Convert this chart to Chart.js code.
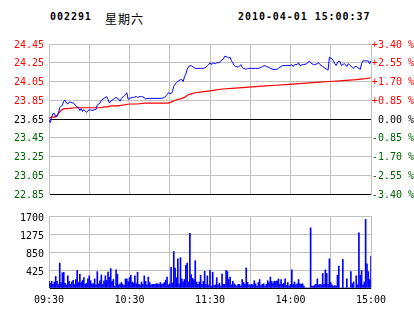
<!DOCTYPE html>
<html>
<head>
<meta charset="utf-8">
<script src="https://cdn.jsdelivr.net/npm/chart.js@4.4.0/dist/chart.umd.min.js"></script>
<style>
html, body { margin: 0; padding: 0; background: #fff; }
#wrap { position: relative; width: 414px; height: 314px; overflow: hidden; }
canvas { position: absolute; left: 0; }
#price { top: 0; }
#vol { top: 205px; }
.hd { position: absolute; top: 11px; line-height: 12px; font: bold 10px "DejaVu Sans Mono", monospace; letter-spacing: 0.95px; color: #000; white-space: pre; }
.cn { position: absolute; top: 10px; line-height: 12px; font: 12px "Noto Sans CJK SC", sans-serif; letter-spacing: 1px; color: #000; }
</style>
</head>
<body>
<div id="wrap">
  <div class="hd" style="left:50px">002291</div>
  <div class="cn" style="left:105px">星期六</div>
  <div class="hd" style="left:238px">2010-04-01 15:00:37</div>
  <canvas id="price" width="414" height="205"></canvas>
  <canvas id="vol" width="414" height="109"></canvas>
</div>
<script>
// minutes since 09:30 (0..240, lunch break removed)
var labelMinutes = [0, 60, 120, 180, 240];
var timeLabels = ["09:30", "10:30", "11:30", "14:00", "15:00"];

var prevClose = 23.65;
var priceTicks = [22.85, 23.05, 23.25, 23.45, 23.65, 23.85, 24.05, 24.25, 24.45];
var pctTicks = [-3.40, -2.55, -1.70, -0.85, 0, 0.85, 1.70, 2.55, 3.40];
var volTicks = [0, 425, 850, 1275, 1700];

var priceMinutes = [0, 1, 2, 3, 4, 5, 6, 7, 8, 10, 11, 12, 13, 14, 15, 16, 18, 19, 20, 22,
  23, 24, 25, 26, 28, 29, 31, 32, 34, 35, 36, 38, 39, 41, 43, 44, 45, 46, 48, 49,
  50, 52, 53, 54, 56, 57, 58, 59, 60, 62, 63, 65, 66, 68, 69, 71, 72, 73, 75, 79,
  84, 86, 88, 89, 91, 92, 93, 95, 96, 98, 99, 100, 101, 102, 103, 104, 106, 108, 109, 111,
  113, 115, 117, 118, 119, 120, 121, 122, 124, 125, 127, 128, 130, 131, 133, 134, 135, 136, 137, 138,
  139, 140, 141, 143, 144, 145, 147, 148, 150, 152, 154, 156, 158, 159, 161, 162, 164, 165, 167, 170,
  171, 173, 174, 176, 178, 180, 181, 182, 183, 185, 186, 187, 189, 190, 192, 193, 194, 195, 197, 198,
  200, 201, 202, 204, 205, 207, 208, 209, 210, 211, 212, 213, 214, 215, 216, 217, 218, 220, 221, 222,
  223, 224, 226, 227, 228, 229, 231, 232, 233, 234, 235, 237, 238, 239, 240];
var priceValues = [23.64, 23.61, 23.67, 23.71, 23.71, 23.67, 23.69, 23.71, 23.77, 23.80, 23.84, 23.85, 23.82, 23.81, 23.83, 23.83, 23.82, 23.81, 23.79, 23.77,
  23.74, 23.76, 23.73, 23.75, 23.72, 23.74, 23.75, 23.74, 23.75, 23.75, 23.80, 23.82, 23.85, 23.87, 23.89, 23.86, 23.82, 23.84, 23.86, 23.87,
  23.88, 23.86, 23.84, 23.87, 23.90, 23.91, 23.93, 23.86, 23.87, 23.88, 23.88, 23.89, 23.88, 23.89, 23.89, 23.88, 23.86, 23.87, 23.87, 23.87,
  23.87, 23.88, 23.91, 23.93, 23.92, 23.94, 24.00, 24.04, 24.05, 24.07, 24.07, 24.05, 24.10, 24.13, 24.18, 24.21, 24.22, 24.20, 24.19, 24.19,
  24.19, 24.19, 24.20, 24.22, 24.23, 24.25, 24.23, 24.25, 24.24, 24.25, 24.25, 24.27, 24.29, 24.32, 24.31, 24.30, 24.31, 24.27, 24.25, 24.22,
  24.21, 24.21, 24.20, 24.23, 24.20, 24.19, 24.18, 24.19, 24.19, 24.19, 24.19, 24.19, 24.20, 24.21, 24.22, 24.21, 24.20, 24.19, 24.18, 24.18,
  24.19, 24.21, 24.22, 24.22, 24.22, 24.22, 24.23, 24.21, 24.23, 24.23, 24.25, 24.22, 24.23, 24.23, 24.24, 24.25, 24.27, 24.25, 24.23, 24.23,
  24.24, 24.25, 24.23, 24.21, 24.20, 24.18, 24.17, 24.31, 24.30, 24.29, 24.27, 24.24, 24.22, 24.25, 24.27, 24.26, 24.22, 24.24, 24.23, 24.21,
  24.24, 24.23, 24.20, 24.19, 24.21, 24.21, 24.19, 24.18, 24.24, 24.27, 24.27, 24.27, 24.27, 24.24, 24.27];

var avgMinutes = [0, 2, 4, 6, 7, 9, 11, 14, 19, 24, 29, 34, 39, 41, 44, 46, 51, 56, 60, 66,
  71, 76, 84, 89, 91, 94, 99, 101, 104, 109, 114, 120, 129, 139, 149, 159, 169, 179, 189, 199,
  209, 219, 229, 236, 240];
var avgValues = [23.66, 23.67, 23.67, 23.68, 23.71, 23.74, 23.76, 23.76, 23.77, 23.77, 23.77, 23.77, 23.77, 23.78, 23.78, 23.79, 23.79, 23.80, 23.81, 23.81,
  23.82, 23.82, 23.82, 23.82, 23.83, 23.85, 23.87, 23.88, 23.91, 23.93, 23.94, 23.95, 23.97, 23.98, 23.99, 24.00, 24.01, 24.02, 24.03, 24.04,
  24.05, 24.06, 24.07, 24.08, 24.09];

// one bar per minute
var volumes = [158, 108, 158, 86, 143, 272, 158, 86, 588, 129,
  358, 373, 108, 72, 287, 158, 86, 143, 179, 86,
  201, 416, 129, 330, 129, 179, 244, 86, 108, 215,
  287, 172, 100, 100, 215, 72, 387, 100, 172, 308,
  86, 172, 287, 179, 373, 251, 459, 158, 201, 43,
  430, 323, 72, 100, 129, 86, 65, 215, 215, 143,
  244, 301, 143, 115, 287, 100, 373, 86, 72, 143,
  86, 287, 158, 72, 258, 129, 72, 86, 86, 86,
  100, 100, 86, 129, 86, 100, 129, 186, 258, 72,
  100, 488, 115, 860, 473, 244, 688, 100, 717, 215,
  143, 201, 538, 588, 143, 1290, 315, 229, 201, 645,
  143, 86, 143, 301, 86, 158, 394, 86, 287, 72,
  416,
  43, 373, 57, 72, 244, 72, 115, 43, 330, 86,
  86, 416, 387, 201, 258, 72, 158, 100, 72, 43,
  86, 86, 43, 201, 129, 86, 473, 129, 72, 72,
  86, 72, 172, 100, 43, 129, 201, 57, 86, 100,
  43, 86, 172, 129, 258, 158, 115, 158, 158, 172,
  215, 86, 201, 86, 115, 215, 57, 129, 43, 86,
  430, 86, 143, 72, 100, 201, 100, 86, 100, 43,
  0, 0, 0, 0,
  1420, 43, 43, 72, 86, 215, 72, 86, 72, 344,
  86, 430, 344, 86, 688, 129, 72, 43, 57, 43,
  301, 516, 0, 0, 674, 0, 0, 215, 0, 0,
  387, 100, 143, 0, 287, 72, 1305, 301, 416, 72,
  143, 1620, 573, 387, 201, 753];

var grey = "#c0c0c0";
var mono = { family: '"DejaVu Sans Mono", monospace', size: 10 };

function upDown(v, base) {
  if (v > base + 1e-6) return "#ff0000";
  if (v < base - 1e-6) return "#006400";
  return "#000000";
}
function pts(xs, ys) {
  return xs.map(function(x, i) { return { x: x, y: ys[i] }; });
}
function fixTicks(list) {
  return function(s) { s.ticks = list.map(function(v) { return { value: v }; }); };
}
var base = {
  responsive: false, animation: false, events: [],
  plugins: { legend: { display: false }, tooltip: { enabled: false } }
};

new Chart(document.getElementById("price"), {
  type: "line",
  data: {
    datasets: [
      { data: pts(priceMinutes, priceValues), borderColor: "#0000ff", borderWidth: 1, pointRadius: 0, tension: 0, yAxisID: "y" },
      { data: pts(avgMinutes, avgValues), borderColor: "#ff0000", borderWidth: 1.2, pointRadius: 0, tension: 0, yAxisID: "y" }
    ]
  },
  options: Object.assign({}, base, {
    layout: { padding: { top: 44, left: 0, right: 0, bottom: 0 } },
    scales: {
      x: {
        type: "linear", min: 0, max: 240,
        ticks: { display: false, stepSize: 30 },
        grid: { color: grey, drawTicks: false },
        border: { display: false },
        afterFit: function(s) { s.height = 2; }
      },
      y: {
        position: "left", min: 22.85, max: 24.45,
        afterBuildTicks: fixTicks(priceTicks),
        afterFit: function(s) { s.width = 49; },
        ticks: {
          font: mono, padding: 5, labelOffset: 1,
          color: function(ctx) { return upDown(ctx.tick.value, prevClose); },
          callback: function(v) { return v.toFixed(2); }
        },
        grid: {
          drawTicks: false,
          color: function(ctx) {
            var v = ctx.tick.value;
            return (Math.abs(v - prevClose) < 1e-6 || Math.abs(v - priceTicks[0]) < 1e-6) ? "#000" : grey;
          }
        },
        border: { color: grey }
      },
      y1: {
        position: "right", min: -3.4, max: 3.4,
        afterBuildTicks: fixTicks(pctTicks),
        afterFit: function(s) { s.width = 43; },
        ticks: {
          font: mono, padding: 0, crossAlign: "far", labelOffset: 1,
          color: function(ctx) { return upDown(ctx.tick.value, 0); },
          callback: function(v) {
            var sign = v > 1e-6 ? "+" : (v < -1e-6 ? "-" : "");
            return sign + Math.abs(v).toFixed(2) + " %";
          }
        },
        grid: { display: false },
        border: { color: grey }
      }
    }
  })
});

new Chart(document.getElementById("vol"), {
  type: "bar",
  data: {
    datasets: [
      { data: pts(volumes.map(function(v, i) { return i; }), volumes), backgroundColor: "#0000ff", borderWidth: 0, barThickness: 1 }
    ]
  },
  options: Object.assign({}, base, {
    layout: { padding: { top: 4, left: 0, right: 0, bottom: 0 } },
    scales: {
      x: {
        type: "linear", min: 0, max: 240, offset: false,
        ticks: {
          stepSize: 30, font: mono, color: "#000", padding: 6, maxRotation: 0, autoSkip: false,
          callback: function(v) { var k = labelMinutes.indexOf(v); return k < 0 ? "" : timeLabels[k]; }
        },
        grid: { color: grey, drawTicks: false, offset: false },
        border: { display: false },
        afterFit: function(s) { s.height = 26; }
      },
      y: {
        position: "left", min: 0, max: 1700,
        afterBuildTicks: fixTicks(volTicks),
        afterFit: function(s) { s.width = 49; },
        ticks: {
          font: mono, padding: 5, color: "#000", labelOffset: 2,
          callback: function(v) { return v === 0 ? "" : String(v); }
        },
        grid: {
          drawTicks: false,
          color: function(ctx) { return ctx.tick.value === 0 ? "#000" : grey; }
        },
        border: { color: grey }
      },
      y1: {
        position: "right", min: 0, max: 1700,
        afterFit: function(s) { s.width = 43; },
        ticks: { display: false },
        grid: { display: false },
        border: { color: grey }
      }
    }
  })
});
</script>
</body>
</html>
